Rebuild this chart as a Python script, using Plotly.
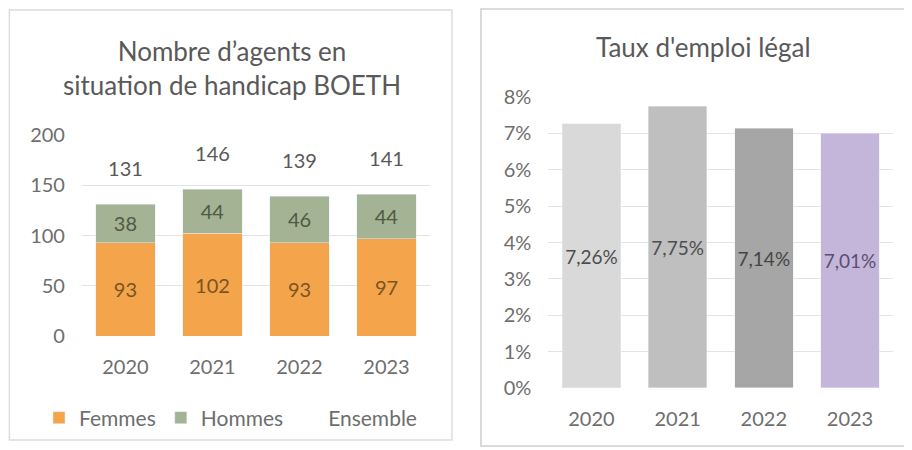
import plotly.graph_objects as go

annees = ["2020", "2021", "2022", "2023"]
femmes = [93, 102, 93, 97]
hommes = [38, 44, 46, 44]
ensemble = [131, 146, 139, 141]
taux = [0.0726, 0.0775, 0.0714, 0.0701]

couleurs_taux = ["#D9D9D9", "#BFBFBF", "#A6A6A6", "#C4B5DB"]
texte_taux = ["#4D4D4D", "#4D4D4D", "#454545", "#5A5070"]

police = "Lato"
gris = "#6E6E6E"

fig = go.Figure()

# graphique de gauche : effectifs BOETH
fig.add_trace(go.Bar(
    x=annees, y=femmes, name="Femmes", marker_color="#F4A44A",
    text=femmes, textposition="inside", insidetextanchor="middle", textangle=0,
    textfont=dict(color="#7A5425", size=20), xaxis="x", yaxis="y"))
fig.add_trace(go.Bar(
    x=annees, y=hommes, name="Hommes", marker_color="#A4B393",
    text=hommes, textposition="inside", insidetextanchor="middle", textangle=0,
    textfont=dict(color="#4F5A44", size=20), xaxis="x", yaxis="y"))
fig.add_trace(go.Scatter(
    x=annees, y=ensemble, name="Ensemble", mode="markers+text",
    marker=dict(size=36, color="rgba(0,0,0,0)"),
    text=ensemble, textposition="top center", cliponaxis=False,
    textfont=dict(color="#595959", size=20), xaxis="x", yaxis="y"))

# graphique de droite : taux d'emploi
fig.add_trace(go.Bar(
    x=annees, y=taux, marker_color=couleurs_taux, showlegend=False,
    texttemplate="%{y:.2%}", textposition="inside", insidetextanchor="middle", textangle=0,
    textfont=dict(color=texte_taux, size=20), xaxis="x2", yaxis="y2"))

axe_x = dict(showgrid=False, showline=False, ticks="", tickfont=dict(size=20, color=gris),
             ticklabelstandoff=17, automargin=False)
axe_y = dict(showgrid=True, gridcolor="#E3E3E3", gridwidth=1, zeroline=False, showline=False,
             tickfont=dict(size=20, color=gris), ticklabelstandoff=16, automargin=False)

fig.update_layout(
    width=912, height=450,
    margin=dict(l=0, r=0, t=0, b=0, autoexpand=False),
    paper_bgcolor="white", plot_bgcolor="white",
    font=dict(family=police, color=gris),
    separators=", ",
    barmode="stack", bargap=0.32,
    xaxis=dict(axe_x, domain=[0.0811, 0.4627], anchor="y"),
    yaxis=dict(axe_y, domain=[0.2711, 0.7178], range=[0, 200], dtick=50, anchor="x"),
    xaxis2=dict(axe_x, domain=[0.5925, 0.9705], anchor="y2"),
    yaxis2=dict(axe_y, domain=[0.1556, 0.8022], range=[0, 0.08], dtick=0.01,
                tickformat=".0%", anchor="x2"),
    legend=dict(orientation="h", x=0.034, xanchor="left", y=0.0889, yanchor="middle",
                font=dict(size=21, color=gris), itemwidth=30, traceorder="normal"),
    showlegend=True,
    shapes=[
        dict(type="rect", xref="paper", yref="paper", x0=0.0015, x1=0.4868, y0=0.04, y1=0.9956,
             line=dict(color="#DCDCDC", width=1.5)),
        dict(type="rect", xref="paper", yref="paper", x0=0.5186, x1=0.9901, y0=0.0267, y1=0.998,
             line=dict(color="#CFCFCF", width=1.5)),
    ],
    annotations=[
        dict(text="Nombre d’agents en<br>situation de handicap BOETH", xref="paper", yref="paper",
             x=224 / 912, y=1 - 59.5 / 450, xanchor="center", yanchor="middle", showarrow=False,
             font=dict(size=26, color="#595959")),
        dict(text="Taux d'emploi légal", xref="paper", yref="paper",
             x=695 / 912, y=1 - 39 / 450, xanchor="center", yanchor="middle", showarrow=False,
             font=dict(size=26, color="#595959")),
    ],
)

fig.write_html("out.html")
